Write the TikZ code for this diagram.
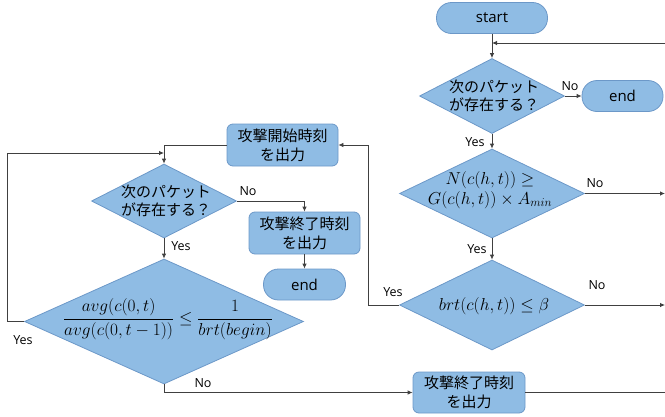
\documentclass[tikz,border=0pt]{standalone}
\usepackage[no-math]{fontspec}
\setmainfont{Open Sans}
\newfontfamily\jp{Noto Sans CJK JP}
\usetikzlibrary{shapes.geometric,arrows.meta}
\definecolor{boxfill}{RGB}{143,188,228}
\definecolor{boxdraw}{RGB}{108,152,200}
\definecolor{linec}{RGB}{64,64,64}
\begin{document}
\begin{tikzpicture}[x=1pt,y=-1pt,
  shp/.style={draw=boxdraw, fill=boxfill, line width=0.8pt},
  dia/.style={shp, diamond, inner sep=0pt},
  proc/.style={shp, rectangle, rounded corners=6pt, minimum width=111pt, minimum height=42pt, align=center, inner sep=0pt, font=\jp\fontsize{15}{19}\selectfont},
  term/.style={shp, rectangle, rounded corners=15pt, minimum height=31pt, inner sep=0pt, font=\fontsize{15}{17}\selectfont},
  lbl/.style={font=\fontsize{12.5}{14}\selectfont, inner sep=0pt, text=black},
  arr/.style={draw=linec, line width=0.8pt, -{Latex[length=5pt,width=4.5pt]}},
  ln/.style={draw=linec, line width=0.8pt},
  jtxt/.style={font=\jp\fontsize{15}{17.5}\selectfont, align=center, inner sep=0pt},
  mtxt/.style={font=\fontsize{17}{20}\selectfont, align=center, inner sep=0pt}
]
\useasboundingbox (0,0) rectangle (665,416);

% right column
\node[term, minimum width=111pt] (start) at (492,18) {start};
\node[dia, minimum width=145pt, minimum height=75pt] (d1) at (492,96) {};
\node[jtxt] (d1t) at (494,96) {次のパケット\\が存在する？};
\node[term, minimum width=81pt] (end1) at (622.5,96) {end};
\node[dia, minimum width=185pt, minimum height=89pt] (d2) at (492,193.5) {};
\node[mtxt] (d2t) at (490,190) {$N(c(h,t))\geq$\\$G(c(h,t))\times A_{min}$};
\node[dia, minimum width=185pt, minimum height=90pt] (d3) at (492,305) {};
\node[mtxt] (d3t) at (494,306) {$brt(c(h,t))\leq\beta$};

% left part
\node[proc] (b1) at (282.5,145) {攻撃開始時刻\\を出力};
\node[dia, minimum width=145pt, minimum height=74pt] (d4) at (164,201) {};
\node[jtxt] (d4t) at (166,201) {次のパケット\\が存在する？};
\node[proc] (b2) at (304.5,233) {攻撃終了時刻\\を出力};
\node[term, minimum width=82pt] (end2) at (304.5,284.5) {end};
\node[dia, minimum width=279pt, minimum height=125pt] (d5) at (164,321.5) {};
\node[mtxt] (d5t) at (168,319) {$\displaystyle\frac{avg(c(0,t)}{avg(c(0,t-1))}\leq\frac{1}{brt(begin)}$};
\node[proc, minimum width=112pt, minimum height=41pt] (b3) at (469,392.5) {攻撃終了時刻\\を出力};

% free ends
\coordinate (in1) at (665,43);
\coordinate (out2) at (665,193.5);
\coordinate (out3) at (665,305);
\coordinate (out4) at (665,392.5);
\coordinate (lp) at (7,153);
\coordinate (rp) at (368,305);

% connectors
\draw[arr] (start.south) -- (d1.north);
\draw[arr] (in1) -- (in1 -| d1.north);
\draw[arr] (d1.east) -- (end1.west);
\draw[arr] (d1.south) -- (d2.north);
\draw[arr] (d2.east) -- (out2);
\draw[arr] (d2.south) -- (d3.north);
\draw[arr] (d3.east) -- (out3);
\draw[arr] (d3.west) -- (rp) |- (b1.east);
\draw[arr] (b1.west) -| (d4.north);
\draw[arr] (d5.west) -| (lp) -- (lp -| d4.north);
\draw[arr] (d4.east) -| (b2.north);
\draw[arr] (b2.south) -- (end2.north);
\draw[arr] (d4.south) -- (d5.north);
\draw[arr] (d5.south) |- (b3.west);
\draw[ln] (b3.east) -- (out4);

% labels
\node[lbl] (l1) at (570,86) {No};
\node[lbl] (l2) at (475,142) {Yes};
\node[lbl] (l3) at (595,183) {No};
\node[lbl] (l4) at (477,249) {Yes};
\node[lbl] (l5) at (597,285) {No};
\node[lbl] (l6) at (393,292) {Yes};
\node[lbl] (l7) at (248,191) {No};
\node[lbl] (l8) at (181,246) {Yes};
\node[lbl] (l9) at (23,340) {Yes};
\node[lbl] (l10) at (203,383) {No};
\end{tikzpicture}
\end{document}
